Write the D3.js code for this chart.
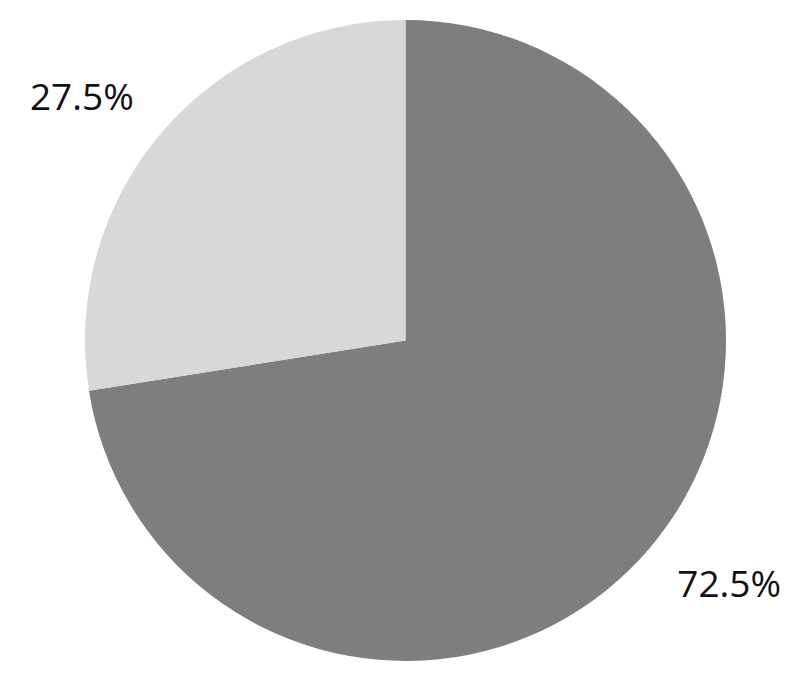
<!DOCTYPE html>
<html>
<head>
<meta charset="utf-8">
<script src="https://cdn.jsdelivr.net/npm/d3@7"></script>
<style>
  body { margin: 0; background: #fff; }
  svg text { font-family: "Open Sans", "Noto Sans", sans-serif; }
</style>
</head>
<body>
<script>
// share of the two slices, clockwise from 12 o'clock
let labels = ["72.5%", "27.5%"]
let values = [72.5, 27.5]
let colors = ["#7f7e7c", "#d9d7d8"]

let width = 800
let height = 686
let cx = 405.5, cy = 340.5
let radius = 320.5
let labelRadius = 405
let labelTurn = -0.062 // labels sit a little counter-clockwise of the slice middle

let svg = d3.select("body").append("svg")
  .attr("width", width)
  .attr("height", height)

let g = svg.append("g")
  .attr("transform", `translate(${cx},${cy})`)

let pie = d3.pie().sort(null).value(d => d)
let arcs = pie(values)

let arc = d3.arc().innerRadius(0).outerRadius(radius)

g.selectAll("path")
  .data(arcs)
  .join("path")
  .attr("d", arc)
  .attr("fill", (d, i) => colors[i])

function labelPos(d) {
  let a = (d.startAngle + d.endAngle) / 2 + labelTurn
  return [labelRadius * Math.sin(a), -labelRadius * Math.cos(a)]
}

g.selectAll("text")
  .data(arcs)
  .join("text")
  .attr("transform", d => `translate(${labelPos(d)})`)
  .attr("text-anchor", "middle")
  .attr("dy", "0.35em")
  .attr("font-size", 37)
  .attr("fill", "#111")
  .text((d, i) => labels[i])
</script>
</body>
</html>
